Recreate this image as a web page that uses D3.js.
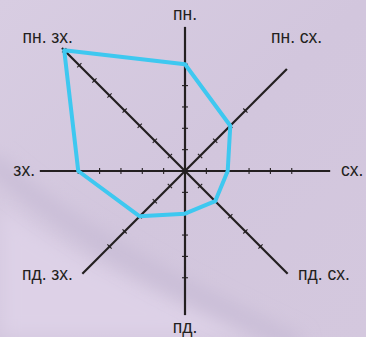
<!DOCTYPE html>
<html>
<head>
<meta charset="utf-8">
<script src="https://cdn.jsdelivr.net/npm/d3@7"></script>
<style>
  html, body { margin: 0; padding: 0; }
  body { width: 366px; height: 337px; overflow: hidden; }
  #graph text { font-family: "Liberation Sans", Arial, sans-serif; fill: #231f20; }
</style>
</head>
<body>
<div id="graph"></div>
<script>
// directions, clockwise from north
var directions = ["пн.", "пн. сх.", "сх.", "пд. сх.", "пд.", "пд. зх.", "зх.", "пн. зх."];
// number of days with wind from each direction
var days = [5, 3, 2, 2, 2, 3, 5, 8];
// tick marks drawn on each axis
var tickCounts = [5, 4, 5, 5, 5, 5, 5, 8];
// axis length in units
var axisMax = [6.75, 6.75, 6.8, 6.8, 6.75, 6.8, 6.8, 8.15];

var width = 366, height = 337;
var cx = 185, cy = 171;

var svg = d3.select("#graph")
    .append("svg")
    .attr("width", width)
    .attr("height", height);

// background
var defs = svg.append("defs");
var bg = defs.append("linearGradient")
    .attr("id", "bg")
    .attr("x1", 0).attr("y1", 0).attr("x2", 1).attr("y2", 1);
bg.append("stop").attr("offset", "0%").attr("stop-color", "#d8cde2");
bg.append("stop").attr("offset", "50%").attr("stop-color", "#d2c6dd");
bg.append("stop").attr("offset", "100%").attr("stop-color", "#d4c8de");
defs.append("filter").attr("id", "blur")
    .append("feGaussianBlur").attr("stdDeviation", 9);

svg.append("rect")
    .attr("width", width)
    .attr("height", height)
    .attr("fill", "url(#bg)");

// lighter zone below the swoosh
svg.append("path")
    .attr("d", "M0,205 C60,250 160,300 260,337 L0,337 Z")
    .attr("fill", "#ddd1e7")
    .attr("filter", "url(#blur)");

// darker swoosh
svg.append("path")
    .attr("d", "M-10,160 C60,225 170,285 300,345")
    .attr("fill", "none")
    .attr("stroke", "#c8bcd6")
    .attr("stroke-width", 16)
    .attr("filter", "url(#blur)");

// radial scale
var r = d3.scaleLinear()
    .domain([0, 1])
    .range([0, 21.35]);

var angle = d3.scaleLinear()
    .domain([0, directions.length])
    .range([0, 2 * Math.PI]);

function px(i, v) { return cx + r(v) * Math.sin(angle(i)); }
function py(i, v) { return cy - r(v) * Math.cos(angle(i)); }

// axes
var axes = svg.append("g").attr("class", "axes");

directions.forEach(function(d, i) {
  axes.append("line")
      .attr("x1", cx).attr("y1", cy)
      .attr("x2", px(i, axisMax[i])).attr("y2", py(i, axisMax[i]))
      .attr("stroke", "#231f20")
      .attr("stroke-width", 2.2);

  var a = angle(i);
  var tx = Math.cos(a) * 3, ty = Math.sin(a) * 3;
  axes.selectAll(".tick" + i)
      .data(d3.range(1, tickCounts[i] + 1))
      .enter()
      .append("line")
      .attr("x1", function(t) { return px(i, t) - tx; })
      .attr("y1", function(t) { return py(i, t) - ty; })
      .attr("x2", function(t) { return px(i, t) + tx; })
      .attr("y2", function(t) { return py(i, t) + ty; })
      .attr("stroke", "#231f20")
      .attr("stroke-width", 1.1);
});

// wind rose polygon
var rose = d3.line()
    .x(function(d, i) { return px(i, d); })
    .y(function(d, i) { return py(i, d); })
    .curve(d3.curveLinearClosed);

svg.append("path")
    .datum(days)
    .attr("d", rose)
    .attr("fill", "none")
    .attr("stroke", "#3ec8f0")
    .attr("stroke-width", 4)
    .attr("stroke-linejoin", "round");

// labels
var labelPos = [
  {x: 185, y: 20, anchor: "middle"},
  {x: 271, y: 43, anchor: "start"},
  {x: 341, y: 176, anchor: "start"},
  {x: 298, y: 280, anchor: "start"},
  {x: 185, y: 333, anchor: "middle"},
  {x: 73, y: 280, anchor: "end"},
  {x: 35, y: 176, anchor: "end"},
  {x: 73, y: 43, anchor: "end"}
];

svg.selectAll(".dir")
    .data(directions)
    .enter()
    .append("text")
    .attr("class", "dir")
    .attr("x", function(d, i) { return labelPos[i].x; })
    .attr("y", function(d, i) { return labelPos[i].y; })
    .attr("text-anchor", function(d, i) { return labelPos[i].anchor; })
    .style("font-size", "17.5px")
    .text(function(d) { return d; });
</script>
</body>
</html>
